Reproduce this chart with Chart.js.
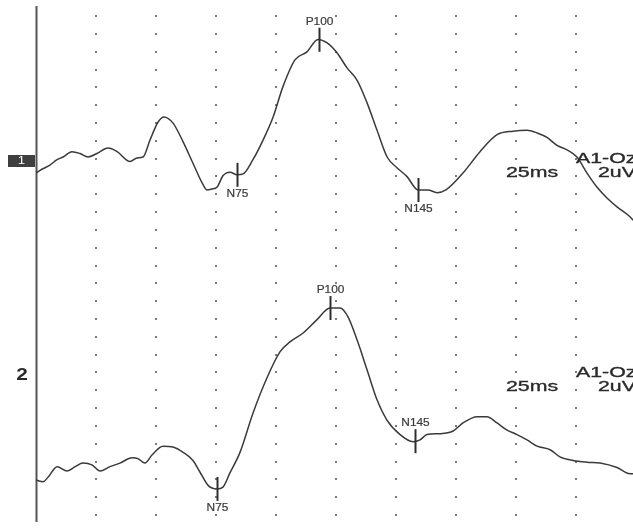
<!DOCTYPE html>
<html>
<head>
<meta charset="utf-8">
<title>VEP A1-Oz</title>
<script src="https://cdn.jsdelivr.net/npm/chart.js@4.4.1/dist/chart.umd.min.js"></script>
<style>
  html, body { margin: 0; padding: 0; background: #ffffff; }
  #wrap { width: 633px; height: 530px; position: relative; }
</style>
</head>
<body>
<div id="wrap"><canvas id="vep"></canvas></div>
<script>
// Channel 1 sweep: latency (ms) and amplitude (uV, relative to the channel baseline)
const ch1Time = [0, 1.7, 5.8, 8.8, 11.3, 15.0, 18.3, 21.7, 25.4, 30.0, 33.8, 39.2, 42.1, 44.6, 47.5,
  50.8, 53.3, 57.1, 61.3, 65.4, 69.2, 71.3, 73.3, 75.4, 77.9, 80.8, 83.8, 86.3, 90.4, 94.6,
  98.8, 102.9, 107.9, 112.9, 117.5, 121.3, 125.4, 129.6, 133.8, 137.9, 142.1, 146.3, 150.4, 154.6, 159.2,
  163.3, 167.1, 170.8, 177.9, 185.0, 192.1, 198.8, 204.6, 208.8, 212.9, 217.1, 221.3, 225.4, 229.6, 233.8,
  237.9, 242.1, 247.5, 248.8];
const ch1Amp = [0, 0.3, 0.9, 1.5, 1.8, 2.4, 2.2, 1.8, 2.2, 2.8, 2.4, 1.3, 1.7, 1.8, 3.7,
  5.7, 6.3, 5.6, 3.5, 1.1, -1.1, -1.9, -1.8, -1.6, -0.3, 0.1, -0.2, -0.1, 1.5, 3.7,
  6.3, 9.7, 12.7, 13.6, 15.0, 14.6, 13.5, 11.8, 10.4, 7.9, 4.8, 1.8, 0.6, -0.4, -1.9,
  -1.9, -2.2, -1.9, 0, 2.4, 4.3, 4.7, 4.8, 4.5, 4.0, 3.1, 2.6, 1.8, 0, -1.6,
  -2.8, -3.8, -4.9, -5.3];

// Channel 2 sweep
const ch2Time = [0, 2.9, 5.0, 8.8, 12.9, 16.3, 19.6, 23.3, 26.7, 30.8, 35.0, 40.0, 42.5, 45.4, 48.3,
  52.9, 57.1, 61.3, 65.4, 68.3, 71.7, 75.4, 77.9, 80.8, 85.0, 90.4, 96.3, 101.7, 105.8, 111.3,
  117.1, 122.5, 126.7, 130.0, 133.8, 137.9, 142.1, 146.3, 151.7, 157.1, 160.0, 162.9, 168.3, 173.8, 177.9,
  183.8, 187.9, 192.1, 196.3, 200.4, 204.6, 208.8, 214.2, 218.3, 223.8, 229.6, 235.0, 242.1, 247.5, 248.8];
const ch2Amp = [0, -0.2, 0.3, 1.5, 1.0, 1.5, 1.9, 1.7, 1.0, 1.5, 1.9, 2.5, 2.4, 1.9, 2.8,
  3.8, 3.7, 3.1, 2.2, 0.9, -0.6, -1.0, -0.8, 0.8, 3.1, 7.5, 11.5, 14.4, 15.5, 16.5,
  18.0, 19.3, 19.3, 18.3, 15.7, 12.4, 9.0, 6.7, 5.1, 4.3, 4.5, 5.1, 5.2, 5.5, 6.4,
  7.1, 7.1, 6.4, 5.6, 5.1, 4.5, 3.8, 3.4, 2.6, 2.2, 2.0, 1.9, 1.4, 0.7, 0.7];

// Peak marks: names and latencies (ms)
const peakNames = ['N75', 'P100', 'N145'];
const ch1PeakTimes = [83.8, 117.9, 159.2];
const ch2PeakTimes = [75.4, 122.5, 157.9];
// which side of the cursor the peak name sits on: 1 above, -1 below
const ch1PeakSide = [-1, 1, -1];
const ch2PeakSide = [-1, 1, 1];

// Channel annotation text
const channelNames = ['1', '2'];
const montage = 'A1-Oz';
const sweepText = '25ms';
const gainText = '2uV';

// Display settings: 25 ms per time division, 2 uV per amplitude division
const msPerDiv = 25;
const uvPerDiv = 2;
const timeDivs = [25, 50, 75, 100, 125, 150, 175, 200, 225];
const ampRows = 28;                 // number of amplitude divisions in the dot grid
const channelBase = [38.38, 3.93];  // trace baselines on the amplitude scale
const channelTextRow = [40, 16];    // amplitude-scale row for each channel's text block

const sweeps = [
  { t: ch1Time, a: ch1Amp, peaks: ch1PeakTimes, side: ch1PeakSide },
  { t: ch2Time, a: ch2Amp, peaks: ch2PeakTimes, side: ch2PeakSide }
];

function ampAt(times, amps, t) {
  for (let i = 1; i < times.length; i++) {
    if (t <= times[i]) {
      const f = (t - times[i - 1]) / (times[i] - times[i - 1]);
      return amps[i - 1] + f * (amps[i] - amps[i - 1]);
    }
  }
  return amps[amps.length - 1];
}

// text with optional horizontal stretch and a light outline for weight
function stretchedText(ctx, text, x, y, font, sx, align, weight) {
  ctx.save();
  ctx.font = font;
  ctx.translate(x, y);
  ctx.scale(sx, 1);
  ctx.textAlign = align || 'left';
  ctx.textBaseline = 'middle';
  ctx.fillText(text, 0, 0);
  if (weight) {
    ctx.strokeStyle = ctx.fillStyle;
    ctx.lineWidth = weight;
    ctx.strokeText(text, 0, 0);
  }
  ctx.restore();
}

const vepDecor = {
  id: 'vepDecor',
  beforeDatasetsDraw(chart) {
    const { ctx, scales: { x, y } } = chart;
    ctx.save();
    // dot grid at every time / amplitude division
    ctx.fillStyle = '#7a7a7a';
    for (const t of timeDivs) {
      const px = Math.round(x.getPixelForValue(t));
      for (let r = 0; r <= ampRows; r++) {
        const py = Math.round(y.getPixelForValue(r * uvPerDiv));
        ctx.fillRect(px - 1, py - 1, 2, 2);
      }
    }
    // stimulus onset line
    const x0 = Math.round(x.getPixelForValue(0)) + 0.5;
    ctx.strokeStyle = '#555555';
    ctx.lineWidth = 2;
    ctx.beginPath();
    ctx.moveTo(x0, 6);
    ctx.lineTo(x0, 522);
    ctx.stroke();
    ctx.restore();
  },
  afterDatasetsDraw(chart) {
    const { ctx, scales: { x, y } } = chart;
    ctx.save();
    const half = 12;
    const font15 = '15px "Liberation Sans", Arial, sans-serif';
    sweeps.forEach((s, ci) => {
      // peak cursors with their names
      s.peaks.forEach((pt, k) => {
        const px = Math.round(x.getPixelForValue(pt)) + 0.5;
        const py = y.getPixelForValue(channelBase[ci] + ampAt(s.t, s.a, pt));
        ctx.strokeStyle = '#2e2e2e';
        ctx.lineWidth = 2;
        ctx.beginPath();
        ctx.moveTo(px, py - half);
        ctx.lineTo(px, py + half);
        ctx.stroke();
        ctx.fillStyle = '#3a3a3a';
        const ly = s.side[k] > 0 ? py - half - 6 : py + half + 7;
        stretchedText(ctx, peakNames[k], px, ly, '11px "Liberation Sans", Arial, sans-serif', 1.08, 'center', 0.2);
      });

      // channel text block
      const ty = y.getPixelForValue(channelTextRow[ci]);
      ctx.fillStyle = '#2a2a2a';
      stretchedText(ctx, montage, 576, ty, font15, 1.42, 'left', 0.35);
      stretchedText(ctx, gainText, 598, ty + 14, font15, 1.42, 'left', 0.35);
      stretchedText(ctx, sweepText, 506, ty + 14, font15, 1.42, 'left', 0.35);

      // channel number
      if (ci === 0) {
        ctx.fillStyle = '#3f3f3f';
        ctx.fillRect(8, Math.round(ty) - 4, 27, 12);
        ctx.fillStyle = '#ffffff';
        stretchedText(ctx, channelNames[ci], 21.5, ty + 2, '11px "Liberation Sans", Arial, sans-serif', 1.2, 'center');
      } else {
        ctx.fillStyle = '#2a2a2a';
        stretchedText(ctx, channelNames[ci], 22, ty + 3, 'bold 16px "Liberation Sans", Arial, sans-serif', 1.3, 'center');
      }
    });
    ctx.restore();
  }
};

const datasets = sweeps.map((s, ci) => ({
  label: 'Channel ' + channelNames[ci],
  data: s.t.map((t, i) => ({ x: t, y: channelBase[ci] + s.a[i] })),
  borderColor: '#3a3a3a',
  borderWidth: 1.5,
  pointRadius: 0,
  fill: false,
  cubicInterpolationMode: 'monotone'
}));

new Chart(document.getElementById('vep'), {
  type: 'line',
  data: { datasets },
  options: {
    responsive: true,
    maintainAspectRatio: false,
    animation: false,
    events: [],
    layout: { padding: { left: 36, right: 0, top: 0, bottom: 0 } },
    plugins: { legend: { display: false }, tooltip: { enabled: false } },
    scales: {
      x: { type: 'linear', min: 0, max: 597 / 60 * msPerDiv, display: false },
      y: { type: 'linear', min: -1.68, max: 57.8, display: false }
    }
  },
  plugins: [vepDecor]
});
</script>
</body>
</html>
